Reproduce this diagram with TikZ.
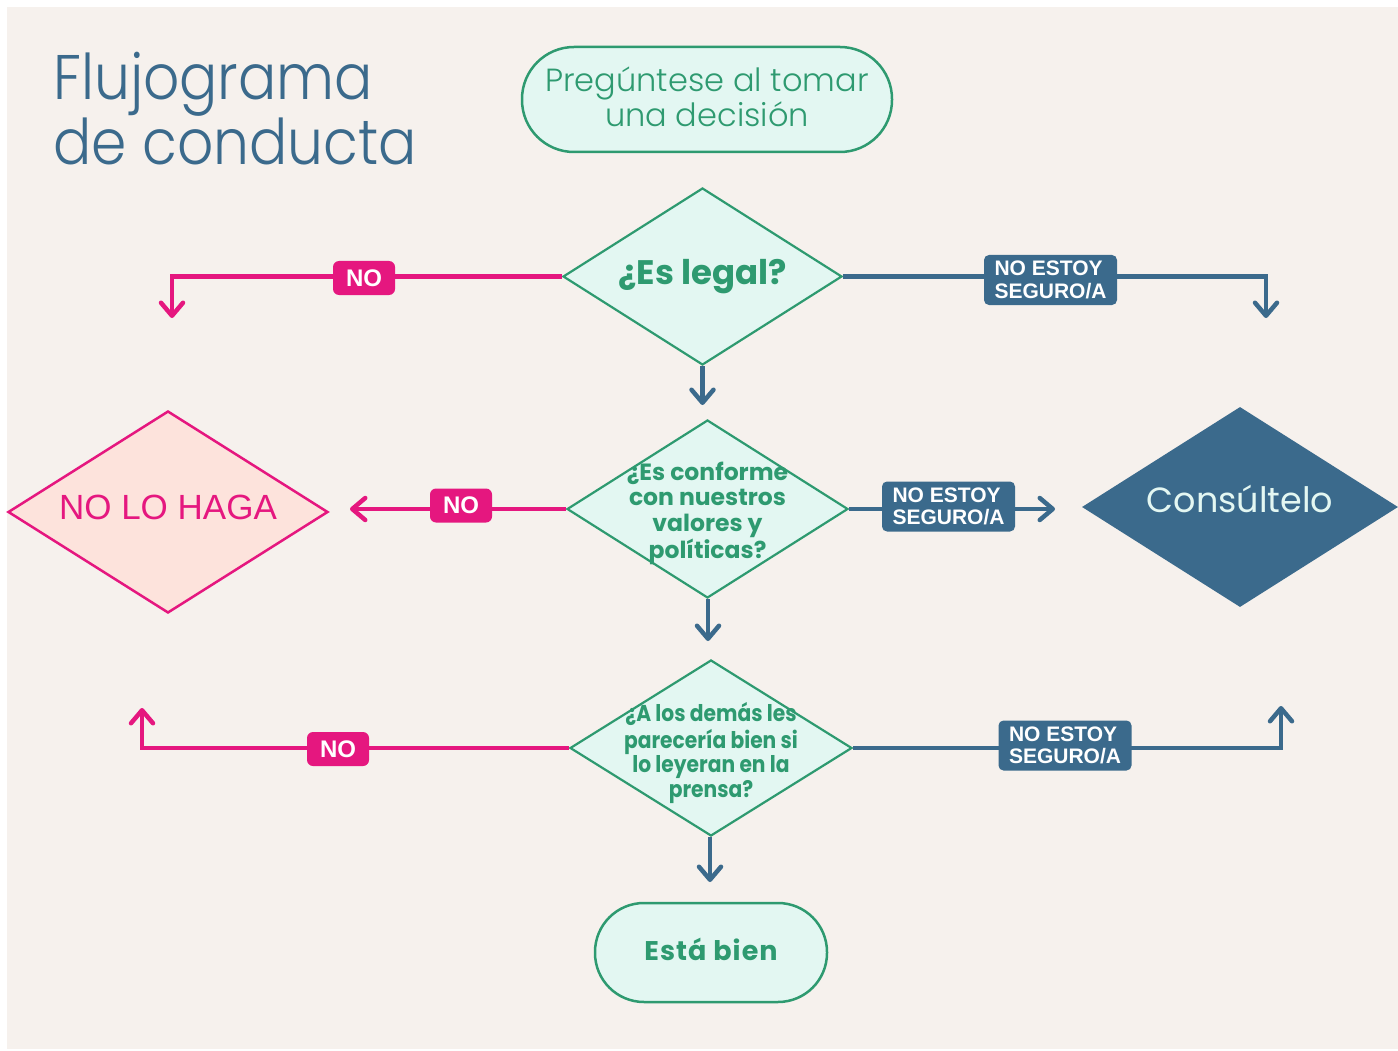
\documentclass[tikz,border=0pt]{standalone}
\usepackage{fontspec}
\usetikzlibrary{arrows.meta,shapes.geometric}
\setmainfont{Poppins}
\newfontfamily\poplight{Poppins}[UprightFont={* Light}]
\newfontfamily\titlefont{Poppins}[UprightFont={* Light},FakeStretch=0.9]
\newfontfamily\popnarrow{Poppins}[FakeStretch=0.88]
\newfontfamily\popwide{Poppins}[LetterSpace=4]
\newfontfamily\arial{Liberation Sans}
\definecolor{bg}{HTML}{F6F1ED}
\definecolor{blu}{HTML}{3B6A8C}
\definecolor{grn}{HTML}{2E9A70}
\definecolor{mint}{HTML}{E3F7F2}
\definecolor{pnk}{HTML}{E5177F}
\definecolor{pfill}{HTML}{FDE3DC}
\newcommand\ztext[2]{\raisebox{-#1}[0pt][0pt]{\makebox[0pt]{#2}}}
\newcommand\zmulti[2]{\raisebox{-#1}[0pt][0pt]{\makebox[0pt]{\begin{tabular}{@{}c@{}}#2\end{tabular}}}}
\begin{document}
\begin{tikzpicture}[x=1pt,y=-1pt,
  dec/.style={diamond, draw=grn, fill=mint, line width=2.2pt, inner sep=0pt, text=grn},
  pill/.style={rectangle, draw=grn, fill=mint, line width=2.5pt, inner sep=0pt, text=grn},
  pk/.style={draw=pnk, line width=4.5pt, -{Straight Barb[round,length=13pt,width=22pt]}, line join=miter},
  bl/.style={draw=blu, line width=4.5pt, -{Straight Barb[round,length=13pt,width=22pt]}, line join=miter},
  nob/.style={fill=pnk, rounded corners=6pt, text=white, inner sep=0pt,
    minimum width=62pt, minimum height=34pt, font=\arial\bfseries\fontsize{24}{26}\selectfont},
  nsb/.style={fill=blu, rounded corners=5pt, text=white, inner sep=0pt, align=left,
    minimum width=133pt, minimum height=50pt, font=\arial\bfseries\fontsize{21}{22.5}\selectfont}
]
\useasboundingbox (0,0) rectangle (1398,1051);
\fill[white] (0,0) rectangle (1398,1051);
\fill[bg] (7,7) rectangle (1398,1049);

% title
\node[anchor=base west, inner sep=0pt, text=blu, font=\titlefont\fontsize{63}{70}\selectfont] (t1) at (53,100) {Flujograma};
\node[anchor=base west, inner sep=0pt, text=blu, font=\titlefont\fontsize{63}{70}\selectfont] (t2) at (53,165) {de conducta};

% start pill
\node[pill, minimum width=370pt, minimum height=105pt, rounded corners=52pt,
  font=\poplight\fontsize{32}{35}\selectfont] (start) at (707,99.5)
  {\zmulti{9pt}{Pregúntese al tomar\\una decisión}};

% decisions
\node[dec, minimum width=279pt, minimum height=177pt,
  font=\bfseries\fontsize{34}{40}\selectfont] (d1) at (702.5,276.5) {\ztext{8pt}{¿Es legal?}};
\node[dec, minimum width=281pt, minimum height=178pt,
  font=\bfseries\fontsize{23.5}{25.5}\selectfont] (d2) at (707.5,509)
  {\zmulti{11pt}{¿Es conforme\\con nuestros\\valores y\\políticas?}};
\node[dec, minimum width=282pt, minimum height=176pt,
  font=\popnarrow\bfseries\fontsize{23}{24.5}\selectfont] (d3) at (711,748)
  {\zmulti{12pt}{¿A los demás les\\parecería bien si\\lo leyeran en la\\prensa?}};
\node[pill, minimum width=232pt, minimum height=99pt, rounded corners=49pt,
  font=\popwide\bfseries\fontsize{27}{30}\selectfont] (ok) at (711,952.5) {\ztext{8pt}{Está bien}};

% outcomes
\node[diamond, draw=pnk, fill=pfill, line width=2.5pt, inner sep=0pt,
  minimum width=320pt, minimum height=202pt, text=pnk,
  font=\arial\fontsize{35}{40}\selectfont] (no) at (168,512) {\ztext{7pt}{NO LO HAGA}};
\node[diamond, fill=blu, inner sep=0pt, minimum width=316pt, minimum height=200pt,
  text=mint, font=\fontsize{35}{42}\selectfont] (ask) at (1240,507) {\ztext{5pt}{Consúltelo}};

% free arrow ends
\coordinate (a1) at (172,318);
\coordinate (a2) at (1266,318);
\coordinate (a3) at (702.5,405);
\coordinate (a4) at (350,509);
\coordinate (a5) at (1055,509);
\coordinate (a6) at (708,641);
\coordinate (a7) at (142,708);
\coordinate (a8) at (1281,706);
\coordinate (a9) at (710,882);

\draw[pk] (d1.west) -| (a1);
\draw[bl] (d1.east) -| (a2);
\draw[bl] (d1.south) -- (a3);
\draw[pk] (d2.west) -- (a4);
\draw[bl] (d2.east) -- (a5);
\draw[bl] (d2.south -| a6) -- (a6);
\draw[pk] (d3.west) -| (a7);
\draw[bl] (d3.east) -| (a8);
\draw[bl] (d3.south -| a9) -- (a9);

% labels
\node[nob] (n1) at (364,278) {NO};
\node[nob] (n2) at (461,505.5) {NO};
\node[nob] (n3) at (338,749) {NO};
\node[nsb] (s1) at (1050.5,280) {NO ESTOY\\SEGURO/A};
\node[nsb] (s2) at (948.5,506.5) {NO ESTOY\\SEGURO/A};
\node[nsb] (s3) at (1065,745.5) {NO ESTOY\\SEGURO/A};
\end{tikzpicture}
\end{document}
